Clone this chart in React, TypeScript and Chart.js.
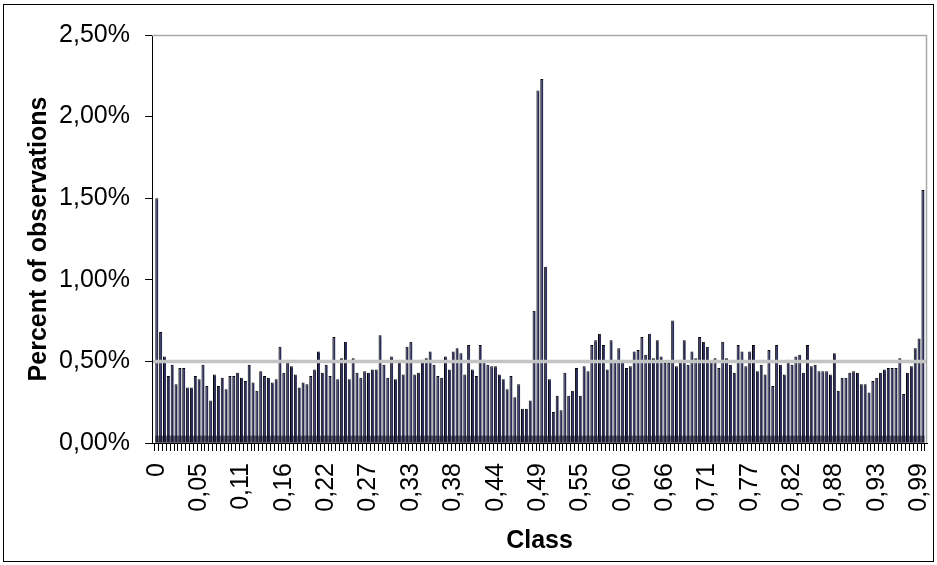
import { useEffect, useRef } from 'react';
import { Chart, registerables } from 'chart.js';

Chart.register(...registerables);

// Share of observations (in %) falling into each of the 200 classes of width 0.005
const SHARE_PCT: number[] = [
  1.50, 0.68, 0.53, 0.41, 0.48, 0.36, 0.46, 0.46, 0.34, 0.34,
  0.41, 0.39, 0.48, 0.35, 0.26, 0.42, 0.35, 0.40, 0.33, 0.41,
  0.41, 0.43, 0.40, 0.38, 0.48, 0.37, 0.32, 0.44, 0.41, 0.40,
  0.37, 0.39, 0.59, 0.43, 0.51, 0.47, 0.42, 0.34, 0.37, 0.36,
  0.41, 0.45, 0.56, 0.43, 0.48, 0.41, 0.65, 0.39, 0.52, 0.62,
  0.39, 0.52, 0.43, 0.40, 0.44, 0.43, 0.45, 0.45, 0.66, 0.48,
  0.40, 0.53, 0.39, 0.51, 0.42, 0.59, 0.62, 0.42, 0.43, 0.51,
  0.52, 0.56, 0.48, 0.41, 0.40, 0.53, 0.45, 0.56, 0.58, 0.55,
  0.42, 0.60, 0.45, 0.41, 0.60, 0.51, 0.48, 0.47, 0.47, 0.42,
  0.39, 0.33, 0.41, 0.28, 0.36, 0.21, 0.21, 0.26, 0.81, 2.16,
  2.23, 1.08, 0.39, 0.19, 0.29, 0.20, 0.43, 0.29, 0.32, 0.46,
  0.29, 0.47, 0.44, 0.60, 0.63, 0.67, 0.60, 0.45, 0.63, 0.51,
  0.58, 0.51, 0.46, 0.47, 0.56, 0.57, 0.65, 0.54, 0.67, 0.52,
  0.63, 0.53, 0.49, 0.49, 0.75, 0.47, 0.51, 0.63, 0.48, 0.56,
  0.52, 0.65, 0.62, 0.59, 0.50, 0.52, 0.46, 0.62, 0.52, 0.48,
  0.43, 0.60, 0.56, 0.47, 0.56, 0.60, 0.44, 0.48, 0.42, 0.57,
  0.35, 0.60, 0.48, 0.42, 0.51, 0.48, 0.53, 0.54, 0.43, 0.60,
  0.47, 0.48, 0.44, 0.44, 0.44, 0.42, 0.55, 0.32, 0.40, 0.40,
  0.43, 0.44, 0.43, 0.36, 0.36, 0.31, 0.38, 0.40, 0.43, 0.45,
  0.46, 0.46, 0.46, 0.52, 0.30, 0.43, 0.47, 0.58, 0.64, 1.55,
];

// Class labels shown on the x axis, one every LABEL_STEP classes
const CLASS_TICK_LABELS: string[] = [
  '0', '0,05', '0,11', '0,16', '0,22', '0,27', '0,33', '0,38', '0,44', '0,49',
  '0,55', '0,60', '0,66', '0,71', '0,77', '0,82', '0,88', '0,93', '0,99',
];
const LABEL_STEP = 11;

// Share expected under a uniform distribution over 200 classes
const EXPECTED_PCT = 0.5;
const Y_MAX_PCT = 2.5;
const Y_STEP_PCT = 0.5;
const BASE_BAND_PCT = 0.045;

// Extra room (in classes) left free before the first and after the last class
const X_MARGIN_START = 0.75;
const X_MARGIN_END = 0.55;

const CLASS_INDEX: number[] = SHARE_PCT.map((_, i) => i);

const FONT_FAMILY = "'Liberation Sans', Arial, Helvetica, sans-serif";

const histogramDecor = {
  id: 'histogramDecor',
  afterDatasetsDraw(chart: any) {
    const { ctx, chartArea: a } = chart;
    const y = chart.scales.y;
    const bars = chart.getDatasetMeta(0).data;
    ctx.save();

    // darker base strip along the foot of the bars
    const first = bars[0];
    const last = bars[bars.length - 1];
    const bandLeft = first.x - first.width / 2;
    const bandRight = last.x + last.width / 2;
    const bandTop = y.getPixelForValue(BASE_BAND_PCT);
    ctx.fillStyle = 'rgba(20, 20, 40, 0.6)';
    ctx.fillRect(bandLeft, bandTop, bandRight - bandLeft, a.bottom - bandTop);

    // uniform-distribution reference level
    const ey = y.getPixelForValue(EXPECTED_PCT);
    ctx.strokeStyle = '#c4c4c4';
    ctx.lineWidth = 3.5;
    ctx.beginPath();
    ctx.moveTo(a.left + 1, ey);
    ctx.lineTo(a.right, ey);
    ctx.stroke();

    // plot frame, top and right sides
    ctx.strokeStyle = '#a8a8a8';
    ctx.lineWidth = 1.5;
    ctx.beginPath();
    ctx.moveTo(a.left, a.top + 0.5);
    ctx.lineTo(a.right - 0.5, a.top + 0.5);
    ctx.lineTo(a.right - 0.5, a.bottom);
    ctx.stroke();

    ctx.restore();
  },
};

export default function App() {
  const canvasRef = useRef<HTMLCanvasElement | null>(null);

  useEffect(() => {
    const canvas = canvasRef.current;
    if (!canvas) return;

    const chart = new Chart(canvas, {
      type: 'bar',
      data: {
        labels: CLASS_INDEX,
        datasets: [
          {
            label: 'Percent of observations',
            data: SHARE_PCT,
            backgroundColor: '#2c2c58',
            borderColor: '#000000',
            borderWidth: { left: 1, top: 1, right: 0, bottom: 0 },
            borderSkipped: false,
            barPercentage: 0.8,
            categoryPercentage: 1.0,
          },
        ],
      },
      options: {
        responsive: false,
        animation: false,
        devicePixelRatio: 1,
        layout: { padding: { top: 30, right: 6, bottom: 0, left: 0 } },
        plugins: {
          legend: { display: false },
          tooltip: { enabled: false },
        },
        scales: {
          x: {
            type: 'category',
            offset: true,
            afterBuildTicks(scale: any) {
              // widen the value range a little so the outer bars sit clear of the axes
              scale._startValue = -0.5 - X_MARGIN_START;
              scale._valueRange = CLASS_INDEX.length + X_MARGIN_START + X_MARGIN_END;
            },
            afterFit(scale: any) {
              scale.height = 118;
              scale.paddingLeft = 0;
              scale.paddingRight = 0;
            },
            grid: {
              offset: true,
              drawOnChartArea: false,
              drawTicks: true,
              tickLength: 8,
              tickColor: '#000000',
              tickWidth: 1,
            },
            border: { display: true, color: '#000000', width: 1 },
            ticks: {
              autoSkip: false,
              minRotation: 90,
              maxRotation: 90,
              padding: 12,
              color: '#000000',
              font: { family: FONT_FAMILY, size: 25 },
              callback: (_v: any, index: number) =>
                index % LABEL_STEP === 0 ? CLASS_TICK_LABELS[index / LABEL_STEP] ?? '' : '',
            },
            title: {
              display: true,
              text: 'Class',
              color: '#000000',
              font: { family: FONT_FAMILY, size: 25, weight: 'bold' },
              padding: { top: 0, bottom: 5 },
            },
          },
          y: {
            min: 0,
            max: Y_MAX_PCT,
            afterFit(scale: any) {
              scale.width = 148;
              scale.paddingTop = 0;
              scale.paddingBottom = 0;
            },
            grid: {
              drawOnChartArea: false,
              drawTicks: true,
              tickLength: 7,
              tickColor: '#000000',
              tickWidth: 1,
            },
            border: { display: true, color: '#000000', width: 1 },
            ticks: {
              stepSize: Y_STEP_PCT,
              padding: 15,
              color: '#000000',
              font: { family: FONT_FAMILY, size: 25 },
              callback: (v: any) => Number(v).toFixed(2).replace('.', ',') + '%',
            },
            title: {
              display: true,
              text: 'Percent of observations',
              color: '#000000',
              font: { family: FONT_FAMILY, size: 25, weight: 'bold' },
              padding: { top: 20, bottom: 0 },
            },
          },
        },
      },
      plugins: [histogramDecor],
    });

    return () => chart.destroy();
  }, []);

  return (
    <div
      style={{
        position: 'fixed',
        left: 3,
        top: 4,
        width: 931,
        height: 558,
        border: '1px solid #000000',
        boxSizing: 'border-box',
        background: '#ffffff',
      }}
    >
      <canvas ref={canvasRef} width={929} height={556} style={{ display: 'block' }} />
    </div>
  );
}
